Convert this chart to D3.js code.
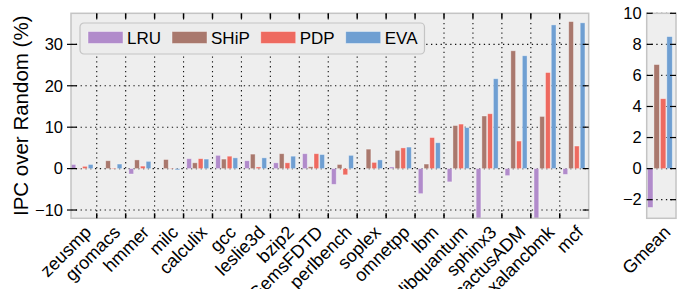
<!DOCTYPE html>
<html>
<head>
<meta charset="utf-8">
<script src="https://cdn.jsdelivr.net/npm/d3@7"></script>
<style>
  html, body { margin: 0; padding: 0; background: #ffffff; }
  text { font-family: "Liberation Sans", Arial, Helvetica, sans-serif; fill: #000; }
</style>
</head>
<body>
<script>
// ---------------- data ----------------
const categories = ["zeusmp", "gromacs", "hmmer", "milc", "calculix", "gcc", "leslie3d", "bzip2",
  "GemsFDTD", "perlbench", "soplex", "omnetpp", "lbm", "libquantum", "sphinx3", "cactusADM",
  "xalancbmk", "mcf"];
const seriesNames = ["LRU", "SHiP", "PDP", "EVA"];
const lruValues  = [1.0, 0.0, -1.3, 0.0, 2.4, 3.2, 1.9, 1.4, 3.6, -3.8, 0.0, 0.4, -6.05, -3.2, -14.0, -1.7, -14.0, -1.4];
const shipValues = [0.1, 1.9, 2.1, 2.2, 1.4, 2.3, 3.5, 3.6, 0.45, 1.0, 4.7, 4.4, 1.1, 10.4, 12.7, 28.45, 12.6, 35.5];
const pdpValues  = [0.55, 0.15, 0.6, 0.1, 2.4, 3.0, 0.4, 1.4, 3.6, -1.5, 1.5, 5.0, 7.5, 10.75, 13.25, 6.65, 23.2, 5.45];
const evaValues  = [1.0, 1.1, 1.75, -0.3, 2.3, 2.6, 2.6, 3.0, 3.4, 3.2, 2.1, 5.2, 6.25, 9.9, 21.7, 27.25, 34.7, 35.2];
const gmeanCategory = ["Gmean"];
const gmeanValues = [-2.5, 6.7, 4.5, 8.5];
const mainTicks = [-10, 0, 10, 20, 30];
const gmeanTicks = [-2, 0, 2, 4, 6, 8, 10];
const colors = ["#b18bcb", "#a9786d", "#ee6a60", "#6f9fd2"];
const yTitle = "IPC over Random (%)";

// ---------------- setup ----------------
const W = 686, H = 289;
const svg = d3.select("body").append("svg").attr("width", W).attr("height", H);

const pTop = 13.3, pBottom = 218.3;
const main = { x0: 71, x1: 588.7 };
const gm = { x0: 646.7, x1: 676 };

const x = d3.scaleBand().domain(categories).range([67.8, 588.7]).padding(0);
const xs = d3.scaleBand().domain(seriesNames).range([3.2, 25.2]).paddingInner(0.17).paddingOuter(0);
const y = d3.scaleLinear().domain([-12, 37.5]).range([pBottom, pTop]);

const xg = d3.scaleBand().domain(gmeanCategory).range([gm.x0, gm.x1]);
const xgs = d3.scaleBand().domain(seriesNames).range([0.8, 25.6]).paddingInner(0.15).paddingOuter(0);
const yg = d3.scaleLinear().domain([-3.2, 10]).range([pBottom, pTop]);

const seriesData = [lruValues, shipValues, pdpValues, evaValues];

const defs = svg.append("defs");
defs.append("clipPath").attr("id", "clipMain").append("rect")
  .attr("x", main.x0).attr("y", pTop).attr("width", main.x1 - main.x0).attr("height", pBottom - pTop);
defs.append("clipPath").attr("id", "clipGm").append("rect")
  .attr("x", gm.x0).attr("y", pTop).attr("width", gm.x1 - gm.x0).attr("height", pBottom - pTop);

// ---------------- main panel ----------------
const gMain = svg.append("g");
gMain.append("rect").attr("x", main.x0).attr("y", pTop).attr("width", main.x1 - main.x0)
  .attr("height", pBottom - pTop).attr("fill", "#eeeeee");

const boundaries = categories.slice(1).map(c => x(c));
// dotted grid
gMain.append("g").selectAll("line").data(boundaries).join("line")
  .attr("x1", d => d).attr("x2", d => d).attr("y1", pTop).attr("y2", pBottom)
  .attr("stroke", "#111").attr("stroke-width", 1.1).attr("stroke-dasharray", "1.3,3.5");
gMain.append("g").selectAll("line").data(mainTicks).join("line")
  .attr("x1", main.x0).attr("x2", main.x1).attr("y1", d => y(d)).attr("y2", d => y(d))
  .attr("stroke", "#111").attr("stroke-width", 1.1).attr("stroke-dasharray", "1.3,3.5");

// bars
const barsMain = gMain.append("g").attr("clip-path", "url(#clipMain)");
seriesNames.forEach((s, si) => {
  barsMain.append("g").selectAll("rect").data(categories).join("rect")
    .attr("x", c => x(c) + xs(s))
    .attr("width", xs.bandwidth())
    .attr("y", (c, i) => y(Math.max(0, seriesData[si][i])))
    .attr("height", (c, i) => Math.abs(y(seriesData[si][i]) - y(0)))
    .attr("fill", colors[si])
    .attr("stroke", "#ffffff").attr("stroke-opacity", 0.45).attr("stroke-width", 0.8);
});

// border
gMain.append("rect").attr("x", main.x0).attr("y", pTop).attr("width", main.x1 - main.x0)
  .attr("height", pBottom - pTop).attr("fill", "none").attr("stroke", "#c4c4c4").attr("stroke-width", 1.5);

// ticks: top and bottom (inward), left (in-out), right (inward)
gMain.append("g").selectAll("line").data(boundaries).join("line")
  .attr("x1", d => d).attr("x2", d => d).attr("y1", pTop).attr("y2", pTop + 5)
  .attr("stroke", "#000").attr("stroke-width", 1.5);
gMain.append("g").selectAll("line").data(boundaries).join("line")
  .attr("x1", d => d).attr("x2", d => d).attr("y1", pBottom - 5).attr("y2", pBottom)
  .attr("stroke", "#000").attr("stroke-width", 1.5);
gMain.append("g").selectAll("line").data(mainTicks).join("line")
  .attr("x1", main.x0 - 4).attr("x2", main.x0 + 6).attr("y1", d => y(d)).attr("y2", d => y(d))
  .attr("stroke", "#000").attr("stroke-width", 1.2);
gMain.append("g").selectAll("line").data(mainTicks).join("line")
  .attr("x1", main.x1 - 6).attr("x2", main.x1).attr("y1", d => y(d)).attr("y2", d => y(d))
  .attr("stroke", "#000").attr("stroke-width", 1.2);

// y tick labels via axis
const yAxis = gMain.append("g").attr("transform", `translate(${main.x0 - 6},0)`)
  .call(d3.axisLeft(y).tickValues(mainTicks).tickSize(0).tickPadding(2).tickFormat(d3.format("d")));
yAxis.select(".domain").remove();
yAxis.selectAll("text").style("font-size", "16.5px").attr("fill", "#000");

// x labels
gMain.append("g").selectAll("text").data(categories).join("text")
  .attr("transform", c => `translate(${x(c) + x.bandwidth() / 2 + 1},${pBottom + 6}) rotate(-45)`)
  .attr("text-anchor", "end").attr("dy", "0.72em")
  .style("font-size", "18px").text(c => c);

// y title
svg.append("text").attr("transform", `translate(28,${(pTop + pBottom) / 2}) rotate(-90)`)
  .attr("text-anchor", "middle").style("font-size", "20.5px").text(yTitle);

// ---------------- legend ----------------
const leg = svg.append("g").attr("transform", "translate(80,23)");
const legBox = leg.append("rect").attr("x", 0).attr("y", 0).attr("height", 31).attr("rx", 4)
  .attr("fill", "#ececec").attr("stroke", "#c4c4c4").attr("stroke-width", 1.2);
let lx = 8;
seriesNames.forEach((s, si) => {
  leg.append("rect").attr("x", lx).attr("y", 8.5).attr("width", 35).attr("height", 12)
    .attr("fill", colors[si]).attr("stroke", "#ffffff").attr("stroke-opacity", 0.5).attr("stroke-width", 0.8);
  const t = leg.append("text").attr("x", lx + 39).attr("y", 20.5).style("font-size", "17px").text(s);
  lx += 39 + t.node().getComputedTextLength() + 11;
});
legBox.attr("width", lx - 4);

// ---------------- gmean panel ----------------
const gG = svg.append("g");
gG.append("rect").attr("x", gm.x0).attr("y", pTop).attr("width", gm.x1 - gm.x0)
  .attr("height", pBottom - pTop).attr("fill", "#eeeeee");
gG.append("g").selectAll("line").data(gmeanTicks).join("line")
  .attr("x1", gm.x0).attr("x2", gm.x1).attr("y1", d => yg(d)).attr("y2", d => yg(d))
  .attr("stroke", "#111").attr("stroke-width", 1.1).attr("stroke-dasharray", "1.3,3.5");
const barsG = gG.append("g").attr("clip-path", "url(#clipGm)");
barsG.selectAll("rect").data(seriesNames).join("rect")
  .attr("x", s => xg("Gmean") + xgs(s))
  .attr("width", xgs.bandwidth())
  .attr("y", (s, i) => yg(Math.max(0, gmeanValues[i])))
  .attr("height", (s, i) => Math.abs(yg(gmeanValues[i]) - yg(0)))
  .attr("fill", (s, i) => colors[i])
  .attr("stroke", "#ffffff").attr("stroke-opacity", 0.45).attr("stroke-width", 0.8);
gG.append("rect").attr("x", gm.x0).attr("y", pTop).attr("width", gm.x1 - gm.x0)
  .attr("height", pBottom - pTop).attr("fill", "none").attr("stroke", "#c4c4c4").attr("stroke-width", 1.5);
gG.append("g").selectAll("line").data(gmeanTicks).join("line")
  .attr("x1", gm.x0).attr("x2", gm.x0 + 6).attr("y1", d => yg(d)).attr("y2", d => yg(d))
  .attr("stroke", "#000").attr("stroke-width", 1.2);
gG.append("g").selectAll("line").data(gmeanTicks).join("line")
  .attr("x1", gm.x1 - 6).attr("x2", gm.x1).attr("y1", d => yg(d)).attr("y2", d => yg(d))
  .attr("stroke", "#000").attr("stroke-width", 1.2);
const ygAxis = gG.append("g").attr("transform", `translate(${gm.x0 - 3},0)`)
  .call(d3.axisLeft(yg).tickValues(gmeanTicks).tickSize(0).tickPadding(2).tickFormat(d3.format("d")));
ygAxis.select(".domain").remove();
ygAxis.selectAll("text").style("font-size", "16.5px").attr("fill", "#000");
gG.append("g").selectAll("text").data(gmeanCategory).join("text")
  .attr("transform", c => `translate(${xg(c) + xg.bandwidth() / 2 + 1},${pBottom + 6}) rotate(-45)`)
  .attr("text-anchor", "end").attr("dy", "0.72em")
  .style("font-size", "18px").text(c => c);
</script>
</body>
</html>
